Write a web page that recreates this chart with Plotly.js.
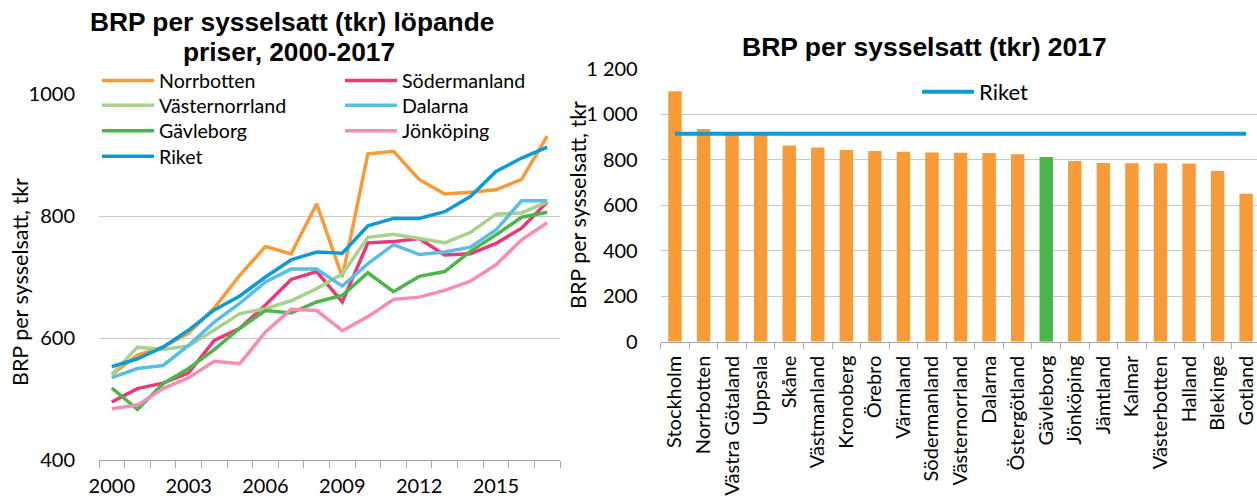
<!DOCTYPE html>
<html>
<head>
<meta charset="utf-8">
<script src="https://cdn.plot.ly/plotly-3.0.1.min.js"></script>
<style>
  html, body { margin: 0; padding: 0; background: #ffffff; }
  #chart { width: 1257px; height: 499px; }
</style>
</head>
<body>
<div id="chart"></div>
<script>
// ---------- Data: left chart (2000-2017) ----------
const years = [2000,2001,2002,2003,2004,2005,2006,2007,2008,2009,2010,2011,2012,2013,2014,2015,2016,2017];
const norrbotten     = [540,572,585,608,649,703,750,738,820,700,902,906,860,836,839,843,860,931];
const sodermanland   = [495,517,526,543,596,616,654,696,709,659,756,758,763,736,738,755,780,823];
const vasternorrland = [540,585,581,587,613,640,648,661,681,705,765,770,763,756,773,803,805,823];
const dalarna        = [535,550,555,588,626,657,692,713,713,685,722,753,737,741,749,777,825,825];
const gavleborg      = [518,483,525,550,581,616,645,641,659,670,707,676,701,709,742,769,798,806];
const jonkoping      = [484,490,517,535,562,558,610,647,645,612,635,663,667,678,693,720,761,789];
const riket          = [553,566,585,613,646,669,700,728,741,739,784,796,796,807,832,873,895,913];

// ---------- Data: right chart (2017) ----------
const regions = ["Stockholm","Norrbotten","Västra Götaland","Uppsala","Skåne","Västmanland","Kronoberg","Örebro","Värmland","Södermanland","Västernorrland","Dalarna","Östergötland","Gävleborg","Jönköping","Jämtland","Kalmar","Västerbotten","Halland","Blekinge","Gotland"];
const brp2017  = [1102,936,915,908,863,855,844,839,836,833,832,830,825,813,795,786,785,785,784,751,651];
const riket2017 = 915;
const highlight = "Gävleborg";

const leftYTicks  = [400,600,800,1000];
const leftXTicks  = [2000,2003,2006,2009,2012,2015];
const rightYTicks = [0,200,400,600,800,1000,1200];
const rightYText  = ["0","200","400","600","800","1 000","1 200"];

// ---------- Styles ----------
const FONT = "Lato, Carlito, 'Liberation Sans', sans-serif";
const TITLEFONT = "'Liberation Sans', Arial, sans-serif";
const C = {
  orange: "#F79B38", soder: "#E8397A", vnorr: "#A9D18E", dalarna: "#5BBDE3",
  gavle: "#4DB54A", jonk: "#F48DB7", riket: "#0E9BD5", grid: "#C8C8C8", axis: "#A6A6A6"
};
const W = 1257, H = 499;
const px = x => x / W;
const py = y => (H - y) / H;

function line(name, y, color, legend) {
  return { type: "scatter", mode: "lines", name: name, x: years, y: y,
    xaxis: "x", yaxis: "y", legend: legend,
    line: { color: color, width: 3.5 }, hoverinfo: "x+y+name" };
}

// legend rows (left chart): row1 Norrbotten/Södermanland, row2 Västernorrland/Dalarna,
// row3 Gävleborg/Jönköping, row4 Riket
const traces = [
  line("Norrbotten", norrbotten, C.orange, "legend"),
  line("Södermanland", sodermanland, C.soder, "legend"),
  line("Västernorrland", vasternorrland, C.vnorr, "legend2"),
  line("Dalarna", dalarna, C.dalarna, "legend2"),
  line("Gävleborg", gavleborg, C.gavle, "legend3"),
  line("Jönköping", jonkoping, C.jonk, "legend3"),
  line("Riket", riket, C.riket, "legend4"),
  { type: "bar", x: regions, y: brp2017, xaxis: "x2", yaxis: "y2", showlegend: false,
    name: "BRP 2017", width: 0.47,
    marker: { color: regions.map(r => r === highlight ? C.gavle : C.orange) } },
  { type: "scatter", mode: "lines", name: "Riket", x: regions, y: regions.map(() => riket2017),
    xaxis: "x2", yaxis: "y2", legend: "legend5",
    line: { color: C.riket, width: 4 } }
];

function rowLegend(x, yc, size, ew) {
  return {
    orientation: "h", xanchor: "left", yanchor: "middle", x: px(x), y: py(yc),
    bgcolor: "rgba(0,0,0,0)", borderwidth: 0,
    font: { family: FONT, size: size, color: "#000" }, itemwidth: 52,
    entrywidth: ew, entrywidthmode: "pixels", traceorder: "normal"
  };
}

const layout = {
  width: W, height: H,
  margin: { l: 0, r: 0, t: 0, b: 0 },
  paper_bgcolor: "#ffffff", plot_bgcolor: "rgba(0,0,0,0)",
  font: { family: FONT, size: 20, color: "#000" },
  showlegend: true,
  legend:  rowLegend(97, 80.7, 19.6, 176),
  legend2: rowLegend(97, 105.5, 19.6, 176),
  legend3: rowLegend(97, 131, 19.6, 176),
  legend4: rowLegend(97, 156.5, 19.6, 176),
  legend5: rowLegend(917, 92, 22, 0),
  xaxis: {
    domain: [px(99), px(560)], anchor: "y", type: "linear",
    range: [1999.5, 2017.5], tickmode: "array", tickvals: leftXTicks,
    ticks: "", showgrid: false, zeroline: false,
    showline: true, linecolor: C.axis, linewidth: 1,
    ticklabelstandoff: 8,
    tickfont: { family: FONT, size: 20 },
    minor: { tick0: 1999.5, dtick: 1, ticks: "outside", ticklen: 7, tickcolor: C.axis, showgrid: false }
  },
  yaxis: {
    domain: [py(460), py(94)], anchor: "x", range: [400, 1000],
    tickmode: "array", tickvals: leftYTicks, showgrid: true, gridcolor: C.grid,
    zeroline: false, showline: false, ticks: "", ticklabelstandoff: 23,
    tickfont: { family: FONT, size: 20 }
  },
  xaxis2: {
    domain: [px(660.7), 1], anchor: "y2", type: "category",
    range: [-0.5, 20.38], tickangle: -90, tickson: "boundaries",
    ticks: "outside", ticklen: 6, tickcolor: C.axis,
    showline: true, linecolor: C.axis, linewidth: 1, showgrid: false,
    ticklabelstandoff: 5,
    tickfont: { family: FONT, size: 20 }
  },
  yaxis2: {
    domain: [py(341.7), py(69)], anchor: "x2", range: [0, 1200],
    tickmode: "array", tickvals: rightYTicks, ticktext: rightYText,
    showgrid: true, gridcolor: C.grid, zeroline: false, showline: false, ticks: "",
    ticklabelstandoff: 22,
    tickfont: { family: FONT, size: 20 }
  },
  annotations: [
    { text: "<b>BRP per sysselsatt (tkr) löpande</b>", xref: "paper", yref: "paper",
      x: px(292), y: py(22), xanchor: "center", yanchor: "middle", showarrow: false,
      font: { family: TITLEFONT, size: 26.3, color: "#000" } },
    { text: "<b>priser, 2000-2017</b>", xref: "paper", yref: "paper",
      x: px(289), y: py(52), xanchor: "center", yanchor: "middle", showarrow: false,
      font: { family: TITLEFONT, size: 26.3, color: "#000" } },
    { text: "<b>BRP per sysselsatt (tkr) 2017</b>", xref: "paper", yref: "paper",
      x: px(924), y: py(47), xanchor: "center", yanchor: "middle", showarrow: false,
      font: { family: TITLEFONT, size: 26.5, color: "#000" } },
    { text: "BRP per sysselsatt, tkr", xref: "paper", yref: "paper",
      x: px(20), y: py(282), xanchor: "center", yanchor: "middle", textangle: -90, showarrow: false,
      font: { family: FONT, size: 21.5, color: "#000" } },
    { text: "BRP per sysselsatt, tkr", xref: "paper", yref: "paper",
      x: px(578), y: py(205), xanchor: "center", yanchor: "middle", textangle: -90, showarrow: false,
      font: { family: FONT, size: 21.5, color: "#000" } }
  ]
};

Plotly.newPlot("chart", traces, layout, { displayModeBar: false, staticPlot: true });
</script>
</body>
</html>
